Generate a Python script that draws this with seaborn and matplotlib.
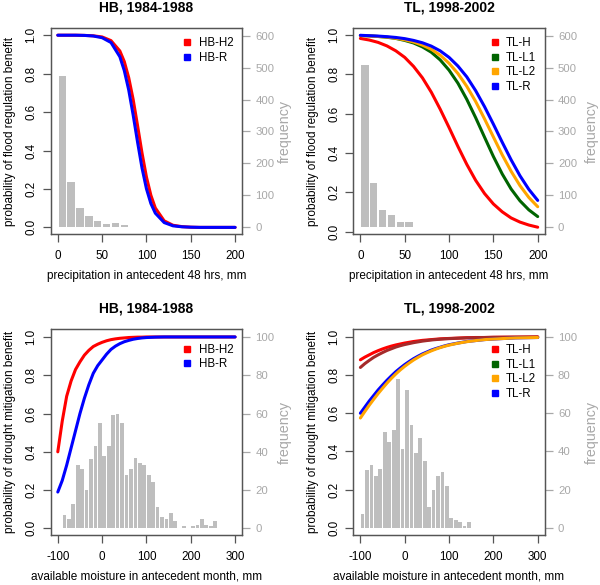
import matplotlib
matplotlib.use("Agg")
import matplotlib.pyplot as plt
from matplotlib.lines import Line2D
import seaborn as sns

plt.rcParams["font.family"] = ["Liberation Sans", "DejaVu Sans"]

RED = "#ff0000"
BLUE = "#0000ff"
GREEN = "#006400"
ORANGE = "#ffa500"
BROWN = "#a52a2a"
HIST = "#bebebe"
FRAME = "#555555"
GREY_TXT = "#a8a8a8"

# flood regulation vs precipitation in antecedent 48 hrs (mm)
HB_FLOOD_MM = [0, 10, 20, 30, 40, 50, 60, 70, 75, 80, 85, 90, 95, 100, 105,
               110, 120, 130, 140, 150, 160, 170, 180, 190, 200]
HB_FLOOD_H2 = [1.0, 1.0, 1.0, 0.999, 0.997, 0.991, 0.972, 0.918, 0.863, 0.779,
               0.666, 0.529, 0.387, 0.262, 0.167, 0.101, 0.034, 0.011, 0.004,
               0.001, 0.0, 0.0, 0.0, 0.0, 0.0]
HB_FLOOD_R = [1.0, 1.0, 1.0, 0.999, 0.996, 0.987, 0.962, 0.888, 0.816, 0.715,
              0.585, 0.443, 0.309, 0.201, 0.124, 0.074, 0.025, 0.008, 0.003,
              0.001, 0.0, 0.0, 0.0, 0.0, 0.0]
HB_FLOOD_BINS = [5, 15, 25, 35, 45, 55, 65, 75]
HB_FLOOD_FREQ = [475, 140, 60, 34, 17, 9, 12, 4]

TL_FLOOD_MM = [0, 10, 20, 30, 40, 50, 60, 70, 80, 90, 100, 110, 120, 130, 140,
               150, 160, 170, 180, 190, 200]
TL_FLOOD_H = [0.981, 0.973, 0.961, 0.943, 0.918, 0.885, 0.839, 0.781, 0.708,
              0.622, 0.529, 0.433, 0.342, 0.261, 0.194, 0.141, 0.101, 0.070,
              0.049, 0.034, 0.023]
TL_FLOOD_L1 = [0.996, 0.994, 0.991, 0.987, 0.981, 0.971, 0.958, 0.938, 0.911,
               0.872, 0.820, 0.754, 0.672, 0.579, 0.480, 0.382, 0.293, 0.217,
               0.157, 0.111, 0.077]
TL_FLOOD_L2 = [0.996, 0.994, 0.991, 0.988, 0.982, 0.974, 0.963, 0.947, 0.926,
               0.896, 0.855, 0.803, 0.738, 0.661, 0.573, 0.481, 0.390, 0.307,
               0.234, 0.174, 0.127]
TL_FLOOD_R = [0.997, 0.995, 0.993, 0.990, 0.986, 0.980, 0.971, 0.959, 0.942,
              0.918, 0.885, 0.841, 0.786, 0.716, 0.635, 0.546, 0.454, 0.365,
              0.284, 0.215, 0.159]
TL_FLOOD_BINS = [5, 15, 25, 35, 45, 55]
TL_FLOOD_FREQ = [507, 136, 51, 37, 16, 16]

# drought mitigation vs available moisture in antecedent month (mm)
DRY_MM = [-100, -90, -80, -70, -60, -50, -40, -30, -20, -10, 0, 10, 20, 30,
          40, 50, 60, 70, 80, 90, 100, 120, 140, 160, 180, 200, 250, 300]
HB_DRY_H2 = [0.40, 0.56, 0.69, 0.77, 0.83, 0.87, 0.905, 0.93, 0.95, 0.962,
             0.972, 0.98, 0.986, 0.99, 0.993, 0.995, 0.997, 0.998, 0.999,
             0.999, 1.0, 1.0, 1.0, 1.0, 1.0, 1.0, 1.0, 1.0]
HB_DRY_R = [0.19, 0.25, 0.33, 0.42, 0.51, 0.60, 0.68, 0.75, 0.81, 0.85, 0.88,
            0.91, 0.935, 0.952, 0.965, 0.975, 0.982, 0.988, 0.992, 0.995,
            0.997, 0.999, 1.0, 1.0, 1.0, 1.0, 1.0, 1.0]
HB_DRY_BINS = [-85, -75, -65, -55, -45, -35, -25, -15, -5, 5, 15, 25, 35, 45,
               55, 65, 75, 85, 95, 105, 115, 125, 135, 145, 155, 165, 175, 185,
               195, 205, 215, 225, 235, 245, 255]
HB_DRY_FREQ = [7, 5, 13, 33, 31, 20, 36, 43, 55, 38, 43, 59, 60, 55, 28, 31,
               37, 34, 33, 28, 24, 11, 6, 5, 8, 4, 0, 1, 0, 1, 2, 5, 2, 1, 4]

TL_DRY_H = [0.880, 0.894, 0.906, 0.918, 0.928, 0.937, 0.945, 0.952, 0.958,
            0.963, 0.968, 0.972, 0.976, 0.979, 0.982, 0.984, 0.986, 0.988,
            0.990, 0.991, 0.992, 0.994, 0.996, 0.997, 0.997, 0.998, 0.999, 1.0]
TL_DRY_L1 = [0.840, 0.860, 0.877, 0.893, 0.906, 0.918, 0.929, 0.938, 0.947,
             0.954, 0.960, 0.965, 0.970, 0.974, 0.978, 0.981, 0.984, 0.986,
             0.988, 0.990, 0.991, 0.993, 0.995, 0.996, 0.997, 0.998, 0.999, 1.0]
TL_DRY_L2 = [0.575, 0.609, 0.642, 0.673, 0.703, 0.731, 0.758, 0.783, 0.806,
             0.827, 0.846, 0.863, 0.879, 0.893, 0.906, 0.917, 0.927, 0.936,
             0.944, 0.951, 0.957, 0.967, 0.975, 0.981, 0.986, 0.989, 0.995, 0.997]
TL_DRY_R = [0.600, 0.632, 0.664, 0.693, 0.722, 0.748, 0.773, 0.796, 0.818,
            0.837, 0.855, 0.871, 0.886, 0.899, 0.911, 0.921, 0.931, 0.939,
            0.946, 0.953, 0.959, 0.968, 0.976, 0.981, 0.986, 0.989, 0.995, 0.997]
TL_DRY_BINS = [-95, -85, -75, -65, -55, -45, -35, -25, -15, -5, 5, 15, 25, 35,
               45, 55, 65, 75, 85, 95, 105, 115, 125, 135, 145]
TL_DRY_FREQ = [7, 30, 33, 27, 31, 50, 45, 51, 78, 41, 72, 54, 39, 47, 35, 11,
               20, 27, 29, 22, 5, 4, 3, 1, 3]

PROB_TICKS = [0.0, 0.2, 0.4, 0.6, 0.8, 1.0]
PROB_LABELS = ["0.0", "0.2", "0.4", "0.6", "0.8", "1.0"]

FLOOD_X = "precipitation in antecedent 48 hrs, mm"
FLOOD_Y = "probability of flood regulation benefit"
DRY_X = "available moisture in antecedent month, mm"
DRY_Y = "probability of drought mitigation benefit"

W, H = 600, 585


def rect(left, top):
    return [left / W, 1 - (top + 206) / H, 191.5 / W, 206 / H]


def panel(fig, box, title, xlabel, ylabel, x, curves, bins, freq, xlim, xticks,
          ylim, flim, fticks, leg_top, freq_x, top_label=None):
    ax = fig.add_axes(box)
    axh = ax.twinx()
    ax.set_zorder(axh.get_zorder() + 1)
    ax.patch.set_visible(False)

    sns.histplot(x=bins, weights=freq, binwidth=10,
                 binrange=(bins[0] - 5, bins[-1] + 5), shrink=0.84,
                 color=HIST, edgecolor="none", alpha=1, ax=axh)
    for label, ys, color, _ in curves:
        z = 3 if label == top_label else 2
        sns.lineplot(x=x, y=ys, color=color, lw=2.2, ax=ax, zorder=z,
                     solid_capstyle="round", sort=False)

    ax.set_xlim(xlim)
    ax.set_ylim(ylim)
    axh.set_ylim(flim)
    ax.set_xticks(xticks)
    ax.set_xticklabels([str(t) for t in xticks], fontsize=8.4)
    ax.set_yticks(PROB_TICKS)
    ax.set_yticklabels(PROB_LABELS, rotation=90, va="center", fontsize=8.4)
    axh.set_yticks(fticks)
    axh.set_yticklabels([str(t) for t in fticks], fontsize=8.2, color=GREY_TXT)

    ax.tick_params(axis="both", direction="out", length=5.5, width=0.9,
                   color=FRAME, pad=4)
    ax.tick_params(axis="x", pad=6)
    axh.tick_params(axis="y", direction="out", length=5.5, width=0.9,
                    color=GREY_TXT, pad=4)
    for a in (ax, axh):
        for s in a.spines.values():
            s.set_color(FRAME)
            s.set_linewidth(0.9)

    ax.set_xlabel(xlabel, fontsize=8.5, va="center")
    ax.xaxis.set_label_coords(0.5, -0.2)
    ax.set_ylabel(ylabel, fontsize=8.5, ha="center", va="center")
    ax.yaxis.set_label_coords(-0.21, 0.5)
    axh.set_ylabel("frequency", fontsize=10.3, color=GREY_TXT, rotation=90,
                   ha="center", va="center")
    axh.yaxis.set_label_coords(freq_x, 0.5)
    ax.text(0.5, 1.1, title, transform=ax.transAxes, ha="center",
            va="center", fontsize=10, fontweight="bold")

    handles = [Line2D([], [], marker="s", linestyle="none", color=c,
                      markersize=4.5) for _, _, _, c in curves]
    ax.legend(handles, [c[0] for c in curves], loc="upper right",
              bbox_to_anchor=(0.955, leg_top), frameon=False, borderpad=0,
              borderaxespad=0, handlelength=0.6, handletextpad=0.7,
              labelspacing=0.22, fontsize=8.3)


fig = plt.figure(figsize=(6, 5.85), dpi=100)

panel(fig, rect(50.7, 28.3), "HB, 1984-1988", FLOOD_X, FLOOD_Y, HB_FLOOD_MM,
      [("HB-H2", HB_FLOOD_H2, RED, RED), ("HB-R", HB_FLOOD_R, BLUE, BLUE)],
      HB_FLOOD_BINS, HB_FLOOD_FREQ, (-8, 208), [0, 50, 100, 150, 200],
      (-0.036, 1.036), (-24, 624), [0, 100, 200, 300, 400, 500, 600],
      0.956, 1.225)

panel(fig, rect(353.3, 28.3), "TL, 1998-2002", FLOOD_X, FLOOD_Y, TL_FLOOD_MM,
      [("TL-H", TL_FLOOD_H, RED, RED), ("TL-L1", TL_FLOOD_L1, GREEN, GREEN),
       ("TL-L2", TL_FLOOD_L2, ORANGE, ORANGE), ("TL-R", TL_FLOOD_R, BLUE, BLUE)],
      TL_FLOOD_BINS, TL_FLOOD_FREQ, (-8, 208), [0, 50, 100, 150, 200],
      (-0.013, 1.0325), (-24, 624), [0, 100, 200, 300, 400, 500, 600],
      0.957, 1.247)

panel(fig, rect(50.7, 329.3), "HB, 1984-1988", DRY_X, DRY_Y, DRY_MM,
      [("HB-H2", HB_DRY_H2, RED, RED), ("HB-R", HB_DRY_R, BLUE, BLUE)],
      HB_DRY_BINS, HB_DRY_FREQ, (-116, 316), [-100, 0, 100, 200, 300],
      (-0.036, 1.04), (-3.6, 104), [0, 20, 40, 60, 80, 100],
      0.930, 1.225)

panel(fig, rect(353.3, 329.3), "TL, 1998-2002", DRY_X, DRY_Y, DRY_MM,
      [("TL-H", TL_DRY_H, RED, RED), ("TL-L1", TL_DRY_L1, BROWN, GREEN),
       ("TL-L2", TL_DRY_L2, ORANGE, ORANGE), ("TL-R", TL_DRY_R, BLUE, BLUE)],
      TL_DRY_BINS, TL_DRY_FREQ, (-116, 316), [-100, 0, 100, 200, 300],
      (-0.04, 1.04), (-4, 104), [0, 20, 40, 60, 80, 100],
      0.927, 1.247, top_label="TL-L2")

fig.savefig("out.png", dpi=100)
